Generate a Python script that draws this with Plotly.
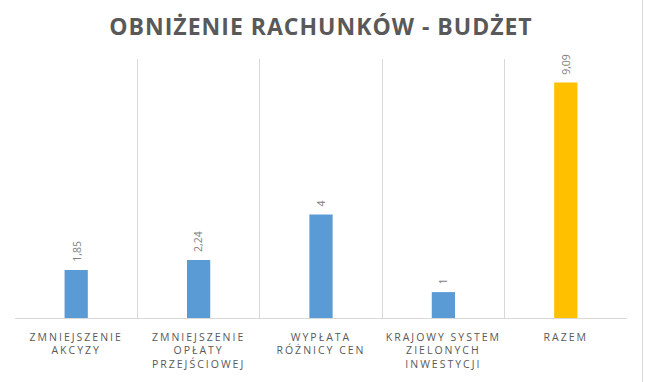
import plotly.graph_objects as go

categories = [
    "ZMNIEJSZENIE<br>AKCYZY",
    "ZMNIEJSZENIE<br>OPŁATY<br>PRZEJŚCIOWEJ",
    "WYPŁATA<br>RÓŻNICY CEN",
    "KRAJOWY SYSTEM<br>ZIELONYCH<br>INWESTYCJI",
    "RAZEM",
]
values = [1.85, 2.24, 4, 1, 9.09]
value_labels = ["1,85", "2,24", "4", "1", "9,09"]
bar_colors = ["#5B9BD5", "#5B9BD5", "#5B9BD5", "#5B9BD5", "#FFC000"]
title_text = "OBNIŻENIE RACHUNKÓW - BUDŻET"

fig = go.Figure(
    go.Bar(
        x=categories,
        y=values,
        width=0.19,
        marker=dict(color=bar_colors, line=dict(width=0)),
        hoverinfo="skip",
    )
)

annotations = [
    dict(
        x=c,
        y=v,
        xref="x",
        yref="y",
        text=t,
        textangle=-90,
        showarrow=False,
        xanchor="center",
        yanchor="bottom",
        yshift=6,
        font=dict(family="Open Sans", size=10.5, color="#7F7F7F"),
    )
    for c, v, t in zip(categories, values, value_labels)
]

fig.update_layout(
    width=645,
    height=382,
    margin=dict(l=15, r=18, t=59, b=64),
    paper_bgcolor="white",
    plot_bgcolor="white",
    showlegend=False,
    annotations=annotations,
    title=dict(
        text=title_text,
        x=0.5,
        xref="paper",
        xanchor="center",
        y=1 - 26.5 / 382,
        yref="container",
        yanchor="middle",
        font=dict(family="Open Sans", size=23, color="#595959", weight="bold"),
    ),
    xaxis=dict(
        type="category",
        tickson="boundaries",
        showgrid=True,
        gridcolor="#D9D9D9",
        gridwidth=1,
        showline=True,
        linecolor="#D9D9D9",
        linewidth=1,
        ticks="",
        ticklabelstandoff=9,
        tickfont=dict(family="Open Sans", size=10.5, color="#595959"),
        fixedrange=True,
    ),
    yaxis=dict(
        range=[0, 10],
        showgrid=False,
        zeroline=False,
        showticklabels=False,
        ticks="",
        fixedrange=True,
    ),
    shapes=[
        dict(
            type="line",
            xref="paper",
            yref="paper",
            x0=(642.5 - 15) / 612,
            x1=(642.5 - 15) / 612,
            y0=-64 / 259,
            y1=318 / 259,
            line=dict(color="#D9D9D9", width=1),
        )
    ],
)

post = """
document.body.style.margin='0';
document.body.style.padding='0';
document.querySelectorAll('.xtick text').forEach(function(t){t.style.letterSpacing='2px';});
document.querySelectorAll('.gtitle').forEach(function(t){t.style.letterSpacing='1px';});
"""

fig.write_html("out.html", post_script=post, config={"displayModeBar": False})
